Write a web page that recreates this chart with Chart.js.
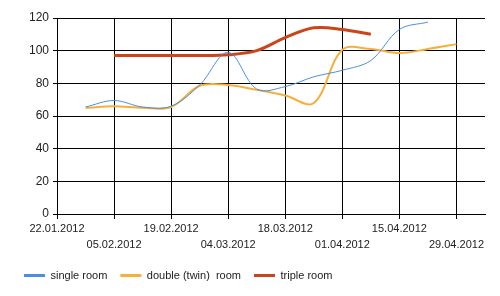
<!DOCTYPE html>
<html>
<head>
<meta charset="utf-8">
<script src="https://cdn.jsdelivr.net/npm/chart.js@4/dist/chart.umd.min.js"></script>
<style>
  html, body { margin: 0; padding: 0; background: #fff; }
  #wrap { width: 500px; height: 296px; position: relative; }
</style>
</head>
<body>
<div id="wrap"><canvas id="c" width="500" height="296"></canvas></div>
<script>
// ---- data ----
const startDate = '22.01.2012';
const tickLabels = ['22.01.2012','05.02.2012','19.02.2012','04.03.2012','18.03.2012','01.04.2012','15.04.2012','29.04.2012'];
const pointDates = ['29.01.2012','05.02.2012','12.02.2012','19.02.2012','26.02.2012','04.03.2012','11.03.2012',
                    '18.03.2012','25.03.2012','01.04.2012','08.04.2012','15.04.2012','22.04.2012','29.04.2012'];
const singleRoom = [65.5, 69.5, 65.5, 66, 79, 99, 76.5, 78, 84, 88, 94, 113, 117.5, null];
const doubleRoom = [65, 66, 65, 65.5, 78.5, 79, 76, 72.5, 68, 100.5, 101, 98.5, 101, 104];
const tripleRoom = [null, 97, 97, 97, 97, 97.5, 100, 108, 114, 113, 110, null, null, null];
const seriesNames = ['single room', 'double (twin)  room', 'triple room'];

function dayOffset(s) {
  const p = s.split('.').map(Number), q = startDate.split('.').map(Number);
  return Math.round((Date.UTC(p[2], p[1]-1, p[0]) - Date.UTC(q[2], q[1]-1, q[0])) / 86400000);
}
function toPoints(vals) {
  return pointDates.map((d, i) => ({x: dayOffset(d), y: vals[i]})).filter(p => p.y !== null);
}

const font = {family: 'Liberation Sans, Arial, sans-serif', size: 11};

new Chart(document.getElementById('c'), {
  type: 'line',
  data: {
    datasets: [
      {label: seriesNames[0], data: toPoints(singleRoom), borderColor: '#4a8fe0', backgroundColor: '#4a8fe0', borderWidth: 1, pointRadius: 0, tension: 0.35, fill: false},
      {label: seriesNames[1], data: toPoints(doubleRoom), borderColor: '#f6b03a', backgroundColor: '#f6b03a', borderWidth: 2, pointRadius: 0, tension: 0.35, fill: false},
      {label: seriesNames[2], data: toPoints(tripleRoom), borderColor: '#cc4418', backgroundColor: '#cc4418', borderWidth: 3, pointRadius: 0, tension: 0.35, fill: false}
    ]
  },
  options: {
    responsive: false,
    animation: false,
    layout: {padding: {left: 11, right: 15, top: 18, bottom: 5}},
    plugins: {
      tooltip: {enabled: false},
      legend: {
        position: 'bottom',
        align: 'start',
        labels: {
          boxWidth: 21, boxHeight: 3, padding: 13, color: '#222', font: font,
          generateLabels: (chart) => Chart.defaults.plugins.legend.labels.generateLabels(chart)
            .map(l => Object.assign({}, l, {lineWidth: 0, fillStyle: l.strokeStyle}))
        }
      }
    },
    scales: {
      x: {
        type: 'linear',
        min: 0, max: 105,
        afterFit: (s) => { s.height = 43; },
        border: {color: '#000', width: 1},
        grid: {color: '#000', lineWidth: 1, tickLength: 5, drawTicks: true},
        ticks: {
          stepSize: 14, includeBounds: false, maxRotation: 0, autoSkip: false,
          padding: 2, color: '#222', font: Object.assign({}, font, {lineHeight: 16/11}),
          callback: (v) => {
            const i = Math.round(v / 14);
            const t = tickLabels[i];
            if (t === undefined) return '';
            return i % 2 === 0 ? t : ['', t];
          }
        }
      },
      y: {
        min: 0, max: 120,
        afterFit: (s) => { s.width = 46; },
        border: {color: '#000', width: 1},
        grid: {color: '#000', lineWidth: 1, tickLength: 4},
        ticks: {stepSize: 20, padding: 4, color: '#222', font: {family: font.family, size: 12}}
      }
    }
  }
});
</script>
</body>
</html>
